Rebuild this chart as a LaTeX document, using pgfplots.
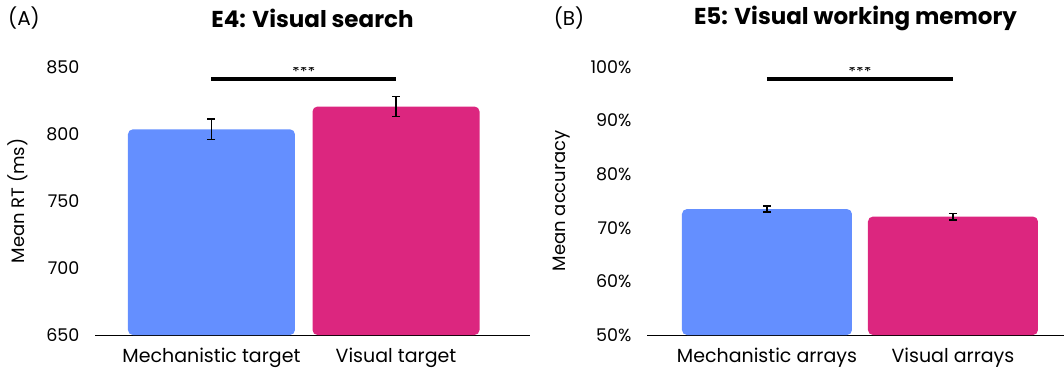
\documentclass[border=0pt]{standalone}
\usepackage{pgfplots}
\pgfplotsset{compat=1.18}
\usepackage{fontspec}
\setmainfont{Poppins}
\definecolor{cblue}{HTML}{648FFF}
\definecolor{cpink}{HTML}{DC267F}
\pgfplotsset{
  myax/.style={
    scale only axis, height=268pt,
    axis lines*=left,
    y axis line style={draw=none},
    x axis line style={line width=0.8pt,-},
    major tick length=0pt,
    xtick={0,1},
    ybar, bar shift=0pt,
    /pgf/number format/assume math mode=true,
    yticklabel style={xshift=-12pt,font=\fontsize{17.5}{20}\selectfont},
    xticklabel style={yshift=-10pt,font=\fontsize{19}{22}\selectfont},
    title style={at={(axis description cs:0.5,1)},yshift=43pt,anchor=center,font=\fontsize{23}{27}\selectfont\bfseries},
  },
  eb/.style={error bars/y dir=both, error bars/y explicit,
      error bars/error bar style={line width=1.4pt,black},
      error bars/error mark options={rotate=90,mark size=4pt,line width=1.6pt,black}},
}
\begin{document}
\begin{tikzpicture}
\useasboundingbox (0,0) rectangle (1064pt,370pt);
\node[font=\fontsize{20}{24}\selectfont] at (24pt,352pt) {(A)};
\node[font=\fontsize{20}{24}\selectfont] at (569pt,352pt) {(B)};
\begin{axis}[myax, name=A, at={(95pt,35pt)}, anchor=south west, width=435pt,
  xmin=-0.631, xmax=1.726, ymin=650, ymax=850,
  ytick={650,700,750,800,850},
  xticklabels={Mechanistic target,Visual target},
  title={E4: Visual search}, bar width=0.905]
\addplot[fill=cblue,draw=none,rounded corners=5pt,eb] coordinates {(0,803.5) +- (0,7.5)};
\addplot[fill=cpink,draw=none,rounded corners=5pt,eb] coordinates {(1,820.5) +- (0,7.5)};
\addplot[sharp plot,no markers,line width=3.5pt,black] coordinates {(0,841) (1,841)};
\node[font=\fontsize{16}{18}\selectfont] at (axis cs:0.5,846.5) {***};
\end{axis}
\node[rotate=90,font=\fontsize{18}{21}\selectfont] at ([xshift=-77pt]A.west) {Mean RT (ms)};
\begin{axis}[myax, name=B, at={(647pt,35pt)}, anchor=south west, width=417pt,
  xmin=-0.645, xmax=1.597, ymin=50, ymax=100,
  ytick={50,60,70,80,90,100},
  yticklabels={50\%,60\%,70\%,80\%,90\%,100\%},
  xticklabels={Mechanistic arrays,Visual arrays},
  title={E5: Visual working memory}, bar width=0.914]
\addplot[fill=cblue,draw=none,rounded corners=5pt,eb] coordinates {(0,73.5) +- (0,0.55)};
\addplot[fill=cpink,draw=none,rounded corners=5pt,eb] coordinates {(1,72.1) +- (0,0.6)};
\addplot[sharp plot,no markers,line width=3.5pt,black] coordinates {(0,97.8) (1,97.8)};
\node[font=\fontsize{16}{18}\selectfont] at (axis cs:0.5,99.2) {***};
\end{axis}
\node[rotate=90,font=\fontsize{18}{21}\selectfont] at ([xshift=-85pt]B.west) {Mean accuracy};
\end{tikzpicture}
\end{document}
